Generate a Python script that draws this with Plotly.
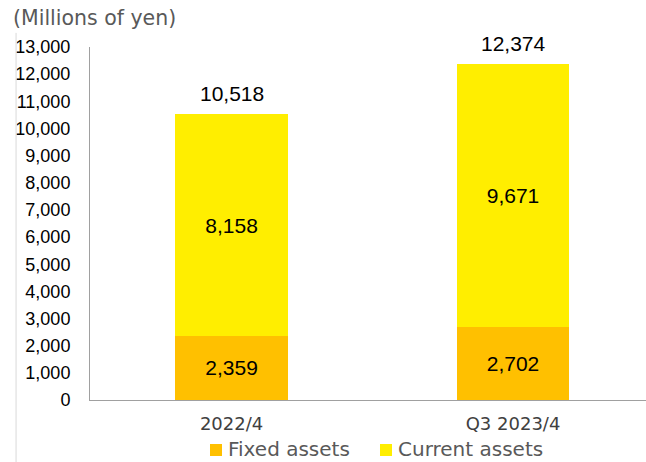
import plotly.graph_objects as go

# Balance sheet assets (millions of yen)
periods = ["2022/4", "Q3 2023/4"]
fixed_assets = [2359, 2702]
current_assets = [8158, 9671]
totals = [10518, 12374]
y_ticks = list(range(0, 13001, 1000))
series_names = ["Fixed assets", "Current assets"]

FIXED_COLOR = "#FFC000"
CURRENT_COLOR = "#FFEE00"
SANS = "Liberation Sans, Arial, sans-serif"
WIDE = "DejaVu Sans, Verdana, sans-serif"

fig = go.Figure()
for name, vals, color in [(series_names[0], fixed_assets, FIXED_COLOR),
                          (series_names[1], current_assets, CURRENT_COLOR)]:
    fig.add_trace(go.Bar(
        x=periods, y=vals, name=name,
        marker=dict(color=color, line=dict(width=0)),
        width=0.401,
        text=[f"{v:,}" for v in vals],
        textposition="inside", insidetextanchor="middle",
        textfont=dict(family=SANS, size=21, color="#000000"),
        showlegend=False,
    ))

# Totals above each stack
for p, t in zip(periods, totals):
    fig.add_annotation(
        x=p, y=t, text=f"{t:,}", showarrow=False,
        yanchor="bottom", yshift=7,
        font=dict(family=SANS, size=21, color="#000000"),
    )

# Unit label
fig.add_annotation(
    xref="paper", yref="paper", x=-0.142, y=1.082,
    xanchor="left", yanchor="middle", showarrow=False,
    text="(Millions of yen)",
    font=dict(family=WIDE, size=20.5, color="#595959"),
)

# Thin frame edge on the left
fig.add_shape(
    type="line", xref="paper", yref="paper",
    x0=-0.133, x1=-0.133, y0=1.04, y1=-0.18,
    line=dict(color="#D9D9D9", width=1),
)

# Legend: colour swatch followed by series name
PX_W, PX_H = 556.0, 353.0
legend_items = [(210, FIXED_COLOR, series_names[0]),
                (380, CURRENT_COLOR, series_names[1])]
ly = -49 / PX_H  # legend row centre, 49px below the axis
for px, color, name in legend_items:
    x0 = (px - 90) / PX_W
    fig.add_shape(
        type="rect", xref="paper", yref="paper",
        x0=x0, x1=x0 + 12 / PX_W, y0=ly - 7 / PX_H, y1=ly + 5 / PX_H,
        fillcolor=color, line=dict(width=0),
    )
    fig.add_annotation(
        xref="paper", yref="paper", x=x0 + 16 / PX_W, y=ly,
        xanchor="left", yanchor="middle", showarrow=False,
        text=name, font=dict(family=WIDE, size=20, color="#595959"),
    )

fig.update_layout(
    barmode="stack",
    width=646, height=462,
    margin=dict(l=90, r=0, t=47, b=62, autoexpand=False),
    paper_bgcolor="white", plot_bgcolor="white",
    uniformtext=dict(minsize=21, mode="show"),
    showlegend=False,
    xaxis=dict(
        type="category", range=[-0.503, 1.4725],
        showline=True, linecolor="#A0A0A0", linewidth=1,
        ticks="", showgrid=False, automargin=False,
        ticklabelstandoff=7,
        tickfont=dict(family=WIDE, size=18, color="#404040"),
    ),
    yaxis=dict(
        range=[0, 13000], tickvals=y_ticks,
        ticktext=[f"{v:,}" for v in y_ticks],
        showline=True, linecolor="#A0A0A0", linewidth=1,
        ticks="", showgrid=False, zeroline=False, automargin=False,
        ticklabelstandoff=15,
        tickfont=dict(family=SANS, size=18, color="#000000"),
    ),
)

fig.write_html("out.html")
